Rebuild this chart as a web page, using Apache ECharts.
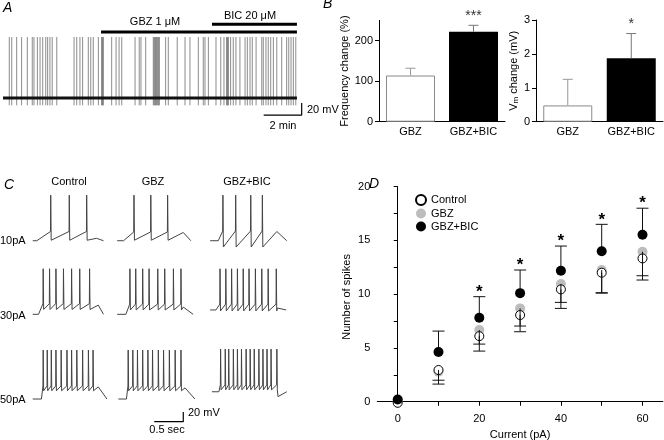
<!DOCTYPE html>
<html><head><meta charset="utf-8">
<script src="https://cdn.jsdelivr.net/npm/echarts@6/dist/echarts.min.js"></script>
<style>html,body{margin:0;padding:0;background:#fff}#c{width:664px;height:440px}</style>
</head><body><div id="c"></div>
<script>
// ---------------- Panel A : spontaneous firing ----------------
const traceEndA = 15.47;          // min
const gbzStartA = 5.16;           // min
const bicStartA = 11.0;           // min
const drugLabelsA = ['GBZ 1 μM', 'BIC 20 μM'];
const spikeTimesA = [0.33,0.46,0.72,0.98,1.28,1.54,1.63,1.81,1.95,2.09,2.25,2.35,2.47,2.59,2.83,
  3.74,3.88,4.05,4.19,4.49,4.62,4.75,5.02,5.19,5.22,5.25,5.28,5.72,5.95,6.11,6.25,6.95,7.17,7.26,7.51,
  7.91,7.95,7.99,8.03,8.07,8.11,8.15,8.19,8.23,8.56,8.70,9.17,9.58,9.84,10.28,10.54,10.63,10.81,
  11.21,11.46,11.63,11.77,11.80,11.83,11.86,11.98,12.12,12.26,12.47,12.74,12.86,13.00,13.12,13.32,
  13.62,13.70,13.84,13.96,14.09,14.23,14.41,14.67,14.93,15.04,15.16,15.28,15.41];
const restA = -60, peakA = 40, troughA = -72;   // mV

// ---------------- Panel B : bar charts ----------------
const groupsB = ['GBZ', 'GBZ+BIC'];
const freqChange = [114, 222];
const freqErrTop = [132, 238];
const freqSig = ['', '***'];
const freqTicks = [0, 100, 200];
const vmChange = [0.48, 1.87];
const vmErrTop = [1.25, 2.6];
const vmSig = ['', '*'];
const vmTicks = [0, 1, 2, 3];

// ---------------- Panel C : evoked firing ----------------
const cColumns = ['Control', 'GBZ', 'GBZ+BIC'];
const cRows = ['10pA', '30pA', '50pA'];
const cSpikes = [
  [[0.34,0.66,0.96], [0.31,0.60,0.89], [0.24,0.46,0.72,0.92]],
  [[0.21,0.32,0.43,0.56,0.70,0.84,1.01], [0.24,0.34,0.46,0.57,0.72,0.84,0.99,1.12],
   [0.19,0.29,0.39,0.49,0.59,0.69,0.80,0.91,1.02,1.16]],
  [[0.21,0.28,0.35,0.43,0.52,0.62,0.70,0.79,0.89,0.99,1.07],
   [0.21,0.29,0.37,0.46,0.55,0.63,0.73,0.82,0.92,1.02,1.12],
   [0.20,0.28,0.34,0.42,0.49,0.56,0.64,0.71,0.78,0.86,0.93,1.00,1.07,1.17]]
];
// [start, stimOn, stimOff, end] (s)
const cWindows = [
  [[0.03,0.10,1.13,1.25], [0.02,0.13,1.16,1.29], [0.02,0.16,1.17,1.34]],
  [[0.03,0.13,1.16,1.25], [0.02,0.17,1.16,1.33], [0.02,0.12,1.18,1.33]],
  [[0.03,0.18,1.16,1.31], [0.04,0.18,1.19,1.36], [0.05,0.17,1.19,1.34]]
];
// [rest, threshold, AHP, peak, post] (mV)
const cLevels = [
  [[-65,-46,-64,29,-60], [-65,-47,-64,29,-48], [-65,-45,-78,29,-46]],
  [[-65,-43,-55,29,-46], [-65,-44,-56,29,-50], [-56,-44,-58,29,-52]],
  [[-65,-38,-48,36,-40], [-65,-38,-48,36,-42], [-50,-36,-46,38,-60]]
];

// ---------------- Panel D : spikes vs current ----------------
const currents = [0, 10, 20, 30, 40, 50, 60];
const ctrlSpikes = [-0.1, 2.95, 6.1, 8.06, 10.45, 12.0, 13.33];
const ctrlLow = [-0.1, 1.64, 4.71, 6.51, 8.68, 10.14, 11.32];
const gbzSpikes = [0.1, 2.8, 6.67, 8.68, 10.95, 12.25, 13.95];
const gbzLow = [0.1, 2.0, 5.36, 7.04, 9.24, 10.1, 11.72];
const bicSpikes = [0.2, 4.62, 7.81, 10.1, 12.19, 14.0, 15.53];
const bicHigh = [0.2, 6.57, 9.77, 12.25, 14.48, 16.5, 18.0];
const sigD = ['', '', '*', '*', '*', '*', '*'];
const yTicksD = [0, 5, 10, 15, 20];
const yMinorD = [0, 2.5, 5, 7.5, 10, 12.5, 15, 17.5, 20];
const xTicksD = [0, 20, 40, 60];

// ================= chart =================
const FONT = '"Liberation Sans", Arial, Helvetica, sans-serif';
const chart = echarts.init(document.getElementById('c'), null, {renderer: 'canvas'});
const grid = [], xAxis = [], yAxis = [], series = [];
const txt = {color: '#000', fontFamily: FONT, fontSize: 11};

function hiddenAxes(g, xmin, xmax, ymin, ymax) {
  xAxis.push({gridIndex: g, type: 'value', min: xmin, max: xmax, show: false});
  yAxis.push({gridIndex: g, type: 'value', min: ymin, max: ymax, show: false});
}

// ---- A ----
grid.push({left: 3, top: 18.7, width: 304, height: 103.7, outerBoundsMode: 'none'});
hiddenAxes(0, 0, 16, -100, 70);
series.push({type: 'custom', xAxisIndex: 0, yAxisIndex: 0, silent: true, z: 2,
  data: spikeTimesA.map(t => [t, troughA, peakA]),
  renderItem(p, api) {
    const a = api.coord([api.value(0), api.value(1)]), b = api.coord([api.value(0), api.value(2)]);
    return {type: 'line', shape: {x1: a[0], y1: a[1], x2: b[0], y2: b[1]}, style: {stroke: '#6e6e6e', lineWidth: 0.8}};
  }});
series.push({type: 'line', xAxisIndex: 0, yAxisIndex: 0, symbol: 'none', silent: true, z: 3,
  data: [[0, restA], [traceEndA, restA]], lineStyle: {color: '#111', width: 3}});
series.push({type: 'line', xAxisIndex: 0, yAxisIndex: 0, symbol: 'none', silent: true,
  data: [[gbzStartA, 48], [traceEndA, 48]], lineStyle: {color: '#000', width: 3}});
series.push({type: 'line', xAxisIndex: 0, yAxisIndex: 0, symbol: 'none', silent: true,
  data: [[bicStartA, 61], [traceEndA, 61]], lineStyle: {color: '#000', width: 3}});
series.push({type: 'line', xAxisIndex: 0, yAxisIndex: 0, symbol: 'none', silent: true, clip: false,
  data: [[13.72, -88], [15.72, -88], [15.72, -68]], lineStyle: {color: '#000', width: 1.2}});

// ---- B ----
function barPanel(g, left, top, width, height, vals, errTop, sig, max, ticks, name, nameGap, nameRich) {
  grid.push({left, top, width, height, outerBoundsMode: 'none'});
  xAxis.push({gridIndex: g, type: 'category', data: groupsB,
    axisLine: {lineStyle: {color: '#000', width: 1}}, axisTick: {show: false},
    axisLabel: Object.assign({margin: 5}, txt)});
  yAxis.push({gridIndex: g, type: 'value', min: 0, max,
    axisLine: {show: true, lineStyle: {color: '#000', width: 1}},
    axisTick: {show: true, length: 4, customValues: ticks, lineStyle: {color: '#000'}},
    axisLabel: Object.assign({margin: 6, customValues: ticks, showMaxLabel: true, showMinLabel: true}, txt),
    splitLine: {show: false},
    name, nameLocation: 'middle', nameGap,
    nameTextStyle: Object.assign({}, txt, nameRich ? {rich: nameRich} : {})});
  series.push({type: 'bar', xAxisIndex: g, yAxisIndex: g, barWidth: 49, silent: true,
    data: vals.map((v, i) => ({value: v, itemStyle: i === 0 ?
      {color: '#fff', borderColor: '#8a8a8a', borderWidth: 1} : {color: '#000'}}))});
  series.push({type: 'custom', xAxisIndex: g, yAxisIndex: g, silent: true, z: 3,
    data: vals.map((v, i) => [i, v, errTop[i]]),
    renderItem(p, api) {
      const i = api.value(0);
      const a = api.coord([i, api.value(1)]), b = api.coord([i, api.value(2)]);
      const col = i === 0 ? '#999' : '#777';
      const ch = [
        {type: 'line', shape: {x1: a[0], y1: a[1], x2: b[0], y2: b[1]}, style: {stroke: col, lineWidth: 1}},
        {type: 'line', shape: {x1: b[0] - 5, y1: b[1], x2: b[0] + 5, y2: b[1]}, style: {stroke: col, lineWidth: 1}}];
      if (sig[i]) ch.push({type: 'text', x: b[0], y: b[1] - 2,
        style: {text: sig[i], align: 'center', verticalAlign: 'bottom', fontSize: 14, fontFamily: FONT, fill: '#333'}});
      return {type: 'group', children: ch};
    }});
}
barPanel(1, 379, 20.45, 126, 101.25, freqChange, freqErrTop, freqSig, 250, freqTicks, 'Frequency change (%)', 18);
barPanel(2, 536, 20, 127, 101.7, vmChange, vmErrTop, vmSig, 3, vmTicks, '{v|V}{s|m}{v| change (mV)}', 9,
  {v: {fontSize: 11, fontFamily: FONT, color: '#000'}, s: {fontSize: 8, fontFamily: FONT, color: '#000', verticalAlign: 'bottom', padding: [4, 0, 0, 0]}});

// ---- C ----
const cLeft = [31, 116, 209], cTop = [189.8, 263.4, 348.1];
function buildTrace(win, spikes, lv) {
  const [t0, on, off, t1] = win, [rest, thr, ahp, peak, post] = lv;
  const pts = [[t0, rest], [on, rest]];
  spikes.forEach(t => { pts.push([t - 0.004, thr], [t, peak], [t + 0.008, ahp]); });
  pts.push([off, post], [t1, rest]);
  return pts;
}
for (let r = 0; r < 3; r++) for (let c = 0; c < 3; c++) {
  const g = grid.length;
  grid.push({left: cLeft[c], top: cTop[r], width: 80, height: 58.2, outerBoundsMode: 'none'});
  hiddenAxes(g, 0, 80 / 58, -80, 40);
  series.push({type: 'line', xAxisIndex: g, yAxisIndex: g, symbol: 'none', silent: true,
    data: buildTrace(cWindows[r][c], cSpikes[r][c], cLevels[r][c]),
    lineStyle: {color: '#444', width: 1}});
  if (r === 2 && c === 1) {
    series.push({type: 'line', xAxisIndex: g, yAxisIndex: g, symbol: 'none', silent: true, clip: false,
      data: [[0.66, -111.8], [1.16, -111.8], [1.16, -91.8]], lineStyle: {color: '#000', width: 1.2}});
  }
}

// ---- D ----
const gD = grid.length;
grid.push({left: 377.3, top: 186.7, width: 285.6, height: 220.4, outerBoundsMode: 'none'});
xAxis.push({gridIndex: gD, type: 'value', min: -5, max: 65,
  axisLine: {lineStyle: {color: '#000'}},
  axisTick: {show: true, length: 4, customValues: currents, lineStyle: {color: '#000'}},
  axisLabel: Object.assign({margin: 6, customValues: xTicksD}, txt), splitLine: {show: false},
  name: 'Current (pA)', nameLocation: 'middle', nameGap: 22, nameTextStyle: txt});
yAxis.push({gridIndex: gD, type: 'value', min: -0.5, max: 20.0001,
  axisLine: {show: true, lineStyle: {color: '#000'}},
  axisTick: {show: true, length: 4, customValues: yMinorD, lineStyle: {color: '#000'}},
  axisLabel: Object.assign({margin: 7, customValues: yTicksD, showMaxLabel: true, showMinLabel: true}, txt),
  splitLine: {show: false},
  name: 'Number of spikes', nameLocation: 'middle', nameGap: 25, nameTextStyle: txt});

function errSeries(means, bounds, z, withSig) {
  return {type: 'custom', xAxisIndex: gD, yAxisIndex: gD, silent: true, z,
    data: currents.map((x, i) => [x, means[i], bounds[i]]),
    renderItem(p, api) {
      const a = api.coord([api.value(0), api.value(1)]), b = api.coord([api.value(0), api.value(2)]);
      const ch = [];
      if (Math.abs(a[1] - b[1]) > 1) {
        ch.push({type: 'line', shape: {x1: a[0], y1: a[1], x2: b[0], y2: b[1]}, style: {stroke: '#111', lineWidth: 1}});
        ch.push({type: 'line', shape: {x1: b[0] - 6, y1: b[1], x2: b[0] + 6, y2: b[1]}, style: {stroke: '#111', lineWidth: 1}});
      }
      if (withSig && sigD[p.dataIndex]) ch.push({type: 'text', x: b[0], y: b[1] + 4,
        style: {text: sigD[p.dataIndex], align: 'center', verticalAlign: 'bottom', fontSize: 17, fontWeight: 'bold', fontFamily: FONT, fill: '#000'}});
      return {type: 'group', children: ch};
    }};
}
series.push({name: 'GBZ', type: 'scatter', xAxisIndex: gD, yAxisIndex: gD, z: 2, symbol: 'circle', symbolSize: 10,
  itemStyle: {color: '#bdbdbd', opacity: 1}, data: currents.map((x, i) => [x, gbzSpikes[i]])});
series.push({name: 'Control', type: 'scatter', xAxisIndex: gD, yAxisIndex: gD, z: 3, symbol: 'circle', symbolSize: 9,
  itemStyle: {color: '#fff', borderColor: '#000', borderWidth: 1, opacity: 1}, data: currents.map((x, i) => [x, ctrlSpikes[i]])});
series.push(errSeries(gbzSpikes, gbzLow, 4, false));
series.push(errSeries(ctrlSpikes, ctrlLow, 4, false));
series.push(errSeries(bicSpikes, bicHigh, 4, true));
series.push({name: 'GBZ+BIC', type: 'scatter', xAxisIndex: gD, yAxisIndex: gD, z: 5, symbol: 'circle', symbolSize: 10,
  itemStyle: {color: '#000', opacity: 1}, data: currents.map((x, i) => [x, bicSpikes[i]])});

// ---- text graphics ----
const T = (text, x, y, o) => Object.assign({type: 'text', x, y,
  style: Object.assign({text, fill: '#000', font: '11px ' + FONT, align: 'left', verticalAlign: 'middle'}, (o && o.style) || {})});
const letter = (s, x, y) => T(s, x, y, {style: {font: 'italic 14px ' + FONT}});
const graphic = [
  letter('A', 3, 8), letter('B', 323, 4), letter('C', 4, 185), letter('D', 369, 184),
  T(drugLabelsA[0], 155, 22, {style: {align: 'center'}}),
  T(drugLabelsA[1], 250, 16, {style: {align: 'center'}}),
  T('20 mV', 307, 110), T('2 min', 283, 126, {style: {align: 'center'}}),
  ...cColumns.map((s, i) => T(s, [69, 153, 247][i], 182, {style: {align: 'center'}})),
  ...cRows.map((s, i) => T(s, 0, [241, 316, 400][i])),
  T('20 mV', 188, 413), T('0.5 sec', 167, 430, {style: {align: 'center'}})
];

chart.setOption({
  animation: false,
  backgroundColor: '#fff',
  textStyle: {fontFamily: FONT},
  grid, xAxis, yAxis, series, graphic,
  legend: {data: ['Control', 'GBZ', 'GBZ+BIC'], orient: 'vertical', left: 410, top: 189,
    itemWidth: 10, itemHeight: 10, itemGap: 2, icon: 'circle', selectedMode: false,
    textStyle: {color: '#000', fontFamily: FONT, fontSize: 11}}
});
</script></body></html>
